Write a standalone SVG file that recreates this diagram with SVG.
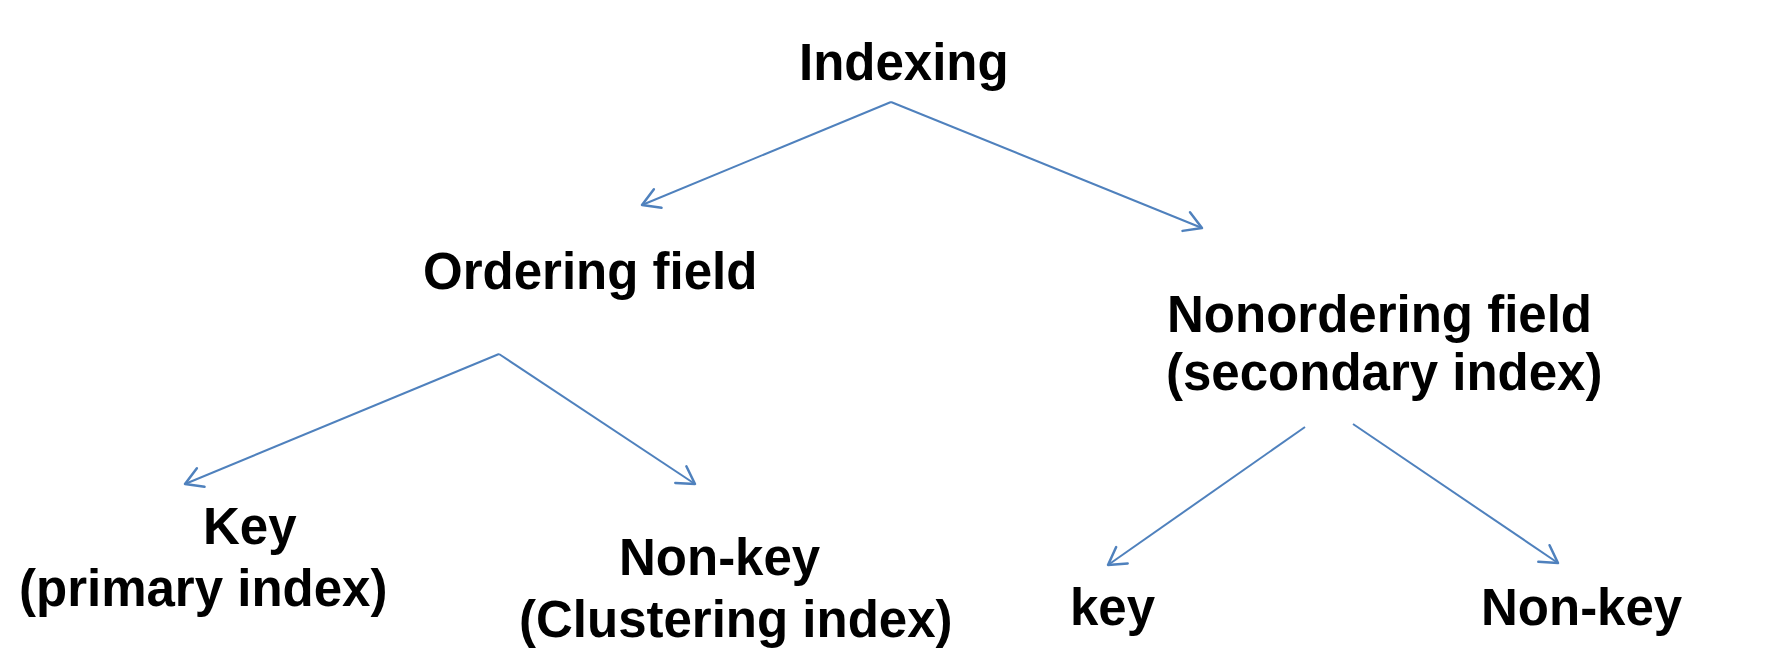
<svg xmlns="http://www.w3.org/2000/svg" width="1785" height="659" viewBox="0 0 1785 659">
<style>
.lbl{font-family:"Liberation Sans",Arial,sans-serif;font-weight:bold;font-size:51px;fill:#000}
.conn{stroke:#4F81BD;stroke-width:2;fill:none}
</style>
<defs>
<marker id="arr" markerUnits="userSpaceOnUse" viewBox="-22 -13 26 26" markerWidth="26" markerHeight="26" refX="0" refY="0" orient="auto" overflow="visible">
<path d="M -17,-10 L 0,0 L -17,10" fill="none" stroke="#4F81BD" stroke-width="2.5" stroke-linecap="round" stroke-linejoin="round"/>
</marker>
</defs>
<rect width="1785" height="659" fill="#fff"/>
<g id="connectors">
<line class="conn" x1="891" y1="102" x2="642" y2="205" marker-end="url(#arr)"/>
<line class="conn" x1="891" y1="102" x2="1202" y2="228" marker-end="url(#arr)"/>
<line class="conn" x1="499" y1="354" x2="185" y2="484" marker-end="url(#arr)"/>
<line class="conn" x1="499" y1="354" x2="695" y2="484" marker-end="url(#arr)"/>
<line class="conn" x1="1305" y1="427" x2="1108" y2="565" marker-end="url(#arr)"/>
<line class="conn" x1="1353" y1="424" x2="1558" y2="563" marker-end="url(#arr)"/>
</g>
<g id="indexing"><text class="lbl" x="799" y="80">Indexing</text></g>
<g id="ordering"><text class="lbl" x="423" y="289">Ordering field</text></g>
<g id="nonordering"><text class="lbl" x="1167" y="332">Nonordering field</text><text class="lbl" x="1166" y="390">(secondary index)</text></g>
<g id="key-primary"><text class="lbl" x="203" y="544">Key</text><text class="lbl" x="19" y="606">(primary index)</text></g>
<g id="nonkey-clustering"><text class="lbl" x="619" y="575">Non-key</text><text class="lbl" x="519" y="637">(Clustering index)</text></g>
<g id="key-secondary"><text class="lbl" x="1070" y="625">key</text></g>
<g id="nonkey-secondary"><text class="lbl" x="1481" y="625">Non-key</text></g>
</svg>
